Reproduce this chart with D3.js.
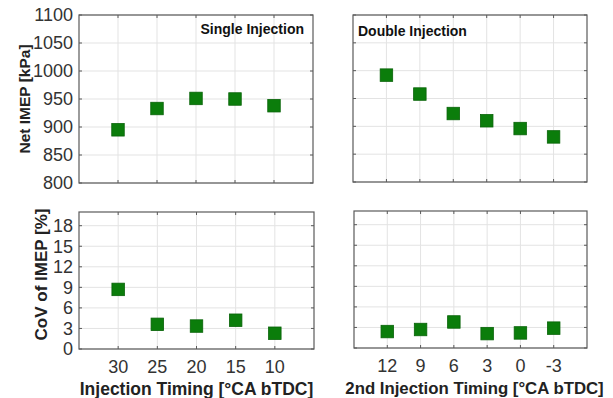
<!DOCTYPE html>
<html>
<head>
<meta charset="utf-8">
<script src="https://cdn.jsdelivr.net/npm/d3@7"></script>
<style>
  body { margin: 0; background: #fff; }
  text { font-family: "Liberation Sans", Arial, sans-serif; }
</style>
</head>
<body>
<div class="chart"></div>
<script>
// data
var singleTiming = [30, 25, 20, 15, 10];
var singleImep = [895, 933, 951, 950, 938];
var singleCov = [8.7, 3.6, 3.35, 4.2, 2.3];

var doubleTiming = [12, 9, 6, 3, 0, -3];
var doubleImep = [992, 958, 923, 910, 896, 881];
var doubleCov = [2.4, 2.7, 3.8, 2.1, 2.2, 2.9];

var imepTicks = [800, 850, 900, 950, 1000, 1050, 1100];
var covTicks = [0, 3, 6, 9, 12, 15, 18];

var svg = d3.select(".chart")
  .append("svg")
  .attr("width", 613)
  .attr("height", 398);

var green = "#0b7d0b";
var gridColor = "#e3e3e3";
var boxColor = "#5a5a5a";
var tickColor = "#333";

// one panel of the 2x2 grid
function panel(box, xDomain, xTicks, yDomain, yTicks, xs, ys, opts) {
  var w = box.right - box.left, h = box.bottom - box.top;
  var g = svg.append("g").attr("transform", `translate(${box.left}, ${box.top})`);

  var x = d3.scaleLinear().domain(xDomain).range([0, w]);
  var y = d3.scaleLinear().domain(yDomain).range([h, 0]);

  // grid
  g.selectAll(".vgrid").data(xTicks).enter().append("line")
    .attr("x1", d => x(d)).attr("x2", d => x(d))
    .attr("y1", 0).attr("y2", h)
    .attr("stroke", gridColor).attr("stroke-width", 1);
  g.selectAll(".hgrid").data(yTicks).enter().append("line")
    .attr("x1", 0).attr("x2", w)
    .attr("y1", d => y(d)).attr("y2", d => y(d))
    .attr("stroke", gridColor).attr("stroke-width", 1);

  // inward ticks on all four sides
  var tl = 3;
  [[0, tl], [h, h - tl]].forEach(function(p) {
    g.selectAll(null).data(xTicks).enter().append("line")
      .attr("x1", d => x(d)).attr("x2", d => x(d))
      .attr("y1", p[0]).attr("y2", p[1])
      .attr("stroke", boxColor);
  });
  [[0, tl], [w, w - tl]].forEach(function(p) {
    g.selectAll(null).data(yTicks).enter().append("line")
      .attr("y1", d => y(d)).attr("y2", d => y(d))
      .attr("x1", p[0]).attr("x2", p[1])
      .attr("stroke", boxColor);
  });

  g.append("rect")
    .attr("width", w).attr("height", h)
    .attr("fill", "none").attr("stroke", boxColor).attr("stroke-width", 1.2);

  if (opts.yLabels) {
    g.selectAll(".ylab").data(yTicks).enter().append("text")
      .attr("x", -6).attr("y", d => y(d))
      .attr("dy", "0.36em")
      .attr("text-anchor", "end")
      .attr("font-size", "18px")
      .attr("fill", tickColor)
      .text(d => d);
  }
  if (opts.xLabels) {
    g.selectAll(".xlab").data(xTicks).enter().append("text")
      .attr("x", d => x(d)).attr("y", h + 24)
      .attr("text-anchor", "middle")
      .attr("font-size", "18px")
      .attr("fill", tickColor)
      .text(d => d);
  }

  // square markers
  var s = 12.5;
  g.selectAll(".pt").data(xs).enter().append("rect")
    .attr("x", (d, i) => x(d) - s / 2)
    .attr("y", (d, i) => y(ys[i]) - s / 2)
    .attr("width", s).attr("height", s)
    .attr("fill", green)
    .attr("stroke", "#086308").attr("stroke-width", 0.8);

  if (opts.title) {
    g.append("text")
      .attr("x", opts.title.anchor === "end" ? w - 9 : 5)
      .attr("y", opts.title.y)
      .attr("text-anchor", opts.title.anchor)
      .attr("font-size", "14px")
      .attr("font-weight", "bold")
      .attr("fill", "#111")
      .text(opts.title.text);
  }
  if (opts.xTitle) {
    g.append("text")
      .attr("x", w / 2 + opts.xTitle.dx).attr("y", h + 46)
      .attr("text-anchor", "middle")
      .attr("font-size", opts.xTitle.size)
      .attr("font-weight", "bold")
      .attr("fill", "#222")
      .text(opts.xTitle.text);
  }
  if (opts.yTitle) {
    g.append("text")
      .attr("transform", `translate(${opts.yTitle.x}, ${h / 2 + opts.yTitle.dy}) rotate(-90)`)
      .attr("text-anchor", "middle")
      .attr("font-size", opts.yTitle.size)
      .attr("font-weight", "bold")
      .attr("fill", "#222")
      .text(opts.yTitle.text);
  }
}

panel({left: 79, right: 313, top: 15, bottom: 183}, [35, 5], singleTiming,
  [800, 1100], imepTicks, singleTiming, singleImep,
  {yLabels: true, title: {text: "Single Injection", anchor: "end", y: 19},
   yTitle: {text: "Net IMEP [kPa]", x: -49, dy: 0, size: "15.5px"}});

panel({left: 353, right: 587, top: 15, bottom: 182}, [15, -6], doubleTiming,
  [800, 1100], imepTicks, doubleTiming, doubleImep,
  {title: {text: "Double Injection", anchor: "start", y: 21}});

panel({left: 79, right: 314, top: 212, bottom: 349}, [35, 5], singleTiming,
  [0, 20], covTicks, singleTiming, singleCov,
  {yLabels: true, xLabels: true,
   xTitle: {text: "Injection Timing [°CA bTDC]", dx: 0, size: "17.5px"},
   yTitle: {text: "CoV of IMEP [%]", x: -32, dy: -6, size: "17px"}});

panel({left: 354, right: 587, top: 211, bottom: 348}, [15, -6], doubleTiming,
  [0, 20], covTicks, doubleTiming, doubleCov,
  {xLabels: true,
   xTitle: {text: "2nd Injection Timing [°CA bTDC]", dx: 4, size: "16.8px"}});
</script>
</body>
</html>
